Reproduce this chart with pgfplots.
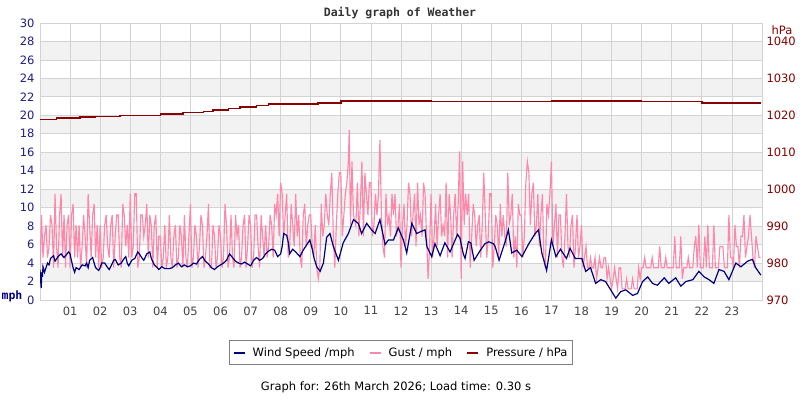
\documentclass[border=0pt]{standalone}
\usepackage{fontspec}
\setmainfont{DejaVu Sans}
\setmonofont{DejaVu Sans Mono}
\usepackage{pgfplots}
\pgfplotsset{compat=1.18}

\definecolor{windblue}{HTML}{000080}
\definecolor{gustpink}{HTML}{FF88AA}
\definecolor{pressred}{HTML}{8B0000}
\definecolor{leftblue}{HTML}{1E1E8C}
\definecolor{gridgray}{HTML}{D3D3D3}
\definecolor{bandgray}{HTML}{F2F2F2}
\definecolor{ticklabelgray}{HTML}{444444}
\definecolor{legendgray}{HTML}{808080}
\definecolor{titlegray}{HTML}{333333}

\newcommand{\chartfont}{\fontsize{11.5bp}{13bp}\selectfont}
\pgfplotsset{plotbox/.style={scale only axis, width=722bp, height=277bp,
  at={(40bp,100bp)}, anchor=south west, xmin=0, xmax=24}}

\begin{document}
\begin{tikzpicture}
\fill[white] (0,0) rectangle (800bp,400bp);

% background bands
\begin{axis}[plotbox, ymin=0, ymax=30, hide axis]
\fill[bandgray] (axis cs:0,2) rectangle (axis cs:24,4);
\fill[bandgray] (axis cs:0,6) rectangle (axis cs:24,8);
\fill[bandgray] (axis cs:0,10) rectangle (axis cs:24,12);
\fill[bandgray] (axis cs:0,14) rectangle (axis cs:24,16);
\fill[bandgray] (axis cs:0,18) rectangle (axis cs:24,20);
\fill[bandgray] (axis cs:0,22) rectangle (axis cs:24,24);
\fill[bandgray] (axis cs:0,26) rectangle (axis cs:24,28);
\end{axis}

% mph axis
\begin{axis}[
  plotbox, ymin=0, ymax=30,
  xtick={1,...,23},
  xticklabels={01,02,03,04,05,06,07,08,09,10,11,12,13,14,15,16,17,18,19,20,21,22,23},
  ytick={0,2,...,30},
  major tick length=0pt,
  grid=major, grid style={draw=gridgray, line width=0.8bp},
  axis line style={draw=gridgray, line width=0.8bp},
  tick label style={font=\chartfont},
  xticklabel style={text=ticklabelgray, yshift=-3bp},
  yticklabel style={text=leftblue, xshift=-2bp},
  /pgf/number format/assume math mode=true,
  legend columns=3,
  legend style={at={(0.5,-0.1444)}, anchor=north, draw=legendgray, line width=1bp,
    fill=white, font=\chartfont, inner xsep=3bp, inner ysep=5bp,
    /tikz/every odd column/.append style={column sep=5bp},
    /tikz/every even column/.append style={column sep=12bp}},
  legend image code/.code={\draw[#1, line width=2bp] (0bp,0bp) -- (11bp,0bp);},
]
\draw[gridgray, line width=2bp] (axis cs:0,0) -- (axis cs:0,30);

\addlegendimage{windblue}
\addlegendentry{Wind Speed /mph}
\addlegendimage{gustpink}
\addlegendentry{Gust / mph}
\addlegendimage{pressred}
\addlegendentry{Pressure / hPa}

% gust
\addplot[gustpink, line width=1.15bp, forget plot] coordinates {
(0.00,3.5) (0.05,9.2) (0.10,4.6) (0.15,6.9) (0.20,8.1) (0.25,4.6) (0.30,5.8) (0.35,9.2) (0.40,8.1) (0.45,3.5)
(0.50,11.5) (0.55,5.8) (0.60,3.5) (0.65,9.2) (0.70,11.5) (0.75,4.6) (0.80,9.2) (0.85,3.5) (0.90,8.1) (0.95,9.2)
(1.00,3.5) (1.05,9.2) (1.10,10.4) (1.15,4.6) (1.20,8.1) (1.25,4.6) (1.30,8.1) (1.35,3.5) (1.40,5.8) (1.45,9.2)
(1.50,6.9) (1.55,3.5) (1.60,11.5) (1.65,8.1) (1.70,4.6) (1.75,9.2) (1.80,10.4) (1.85,4.6) (1.90,8.1) (1.95,3.5)
(2.00,8.1) (2.05,3.5) (2.10,4.6) (2.15,8.1) (2.20,9.2) (2.25,5.8) (2.30,4.6) (2.35,8.1) (2.40,9.2) (2.45,3.5)
(2.50,6.9) (2.55,9.2) (2.60,9.2) (2.65,4.6) (2.70,3.5) (2.75,10.4) (2.80,9.2) (2.85,5.8) (2.90,8.1) (2.95,4.6)
(3.00,11.5) (3.05,4.6) (3.10,5.8) (3.15,11.5) (3.20,11.5) (3.25,3.5) (3.30,4.6) (3.35,9.2) (3.40,9.2) (3.45,6.9)
(3.50,8.1) (3.55,10.4) (3.60,4.6) (3.65,9.2) (3.70,8.1) (3.75,3.5) (3.80,8.1) (3.85,9.2) (3.90,3.5) (3.95,6.9)
(4.00,6.9) (4.05,3.5) (4.10,4.6) (4.15,8.1) (4.20,3.5) (4.25,4.6) (4.30,9.2) (4.35,4.6) (4.40,3.5) (4.45,6.9)
(4.50,8.1) (4.55,3.5) (4.60,4.6) (4.65,8.1) (4.70,6.9) (4.75,3.5) (4.80,9.2) (4.85,4.6) (4.90,3.5) (4.95,6.9)
(5.00,10.4) (5.05,3.5) (5.10,4.6) (5.15,8.1) (5.20,6.9) (5.25,3.5) (5.30,5.8) (5.35,9.2) (5.40,8.1) (5.45,3.5)
(5.50,4.6) (5.55,6.9) (5.60,10.4) (5.65,3.5) (5.70,3.5) (5.75,8.1) (5.80,6.9) (5.85,3.5) (5.90,4.6) (5.95,8.1)
(6.00,6.9) (6.05,3.5) (6.10,4.6) (6.15,10.4) (6.20,8.1) (6.25,3.5) (6.30,4.6) (6.35,9.2) (6.40,4.6) (6.45,3.5)
(6.50,9.2) (6.55,6.9) (6.60,8.1) (6.65,3.5) (6.70,4.6) (6.75,8.1) (6.80,9.2) (6.85,3.5) (6.90,5.8) (6.95,9.2)
(7.00,8.1) (7.05,3.5) (7.10,4.6) (7.15,9.2) (7.20,9.2) (7.25,5.8) (7.30,3.5) (7.35,9.2) (7.40,6.9) (7.45,4.6)
(7.50,8.1) (7.55,4.6) (7.60,5.8) (7.65,9.2) (7.70,8.1) (7.75,4.6) (7.80,10.4) (7.85,9.2) (7.90,11.5) (7.95,6.9)
(8.00,12.7) (8.05,11.5) (8.10,6.9) (8.15,9.2) (8.20,11.5) (8.25,4.6) (8.30,5.8) (8.35,10.4) (8.40,8.1) (8.45,5.8)
(8.50,11.5) (8.55,6.9) (8.60,9.2) (8.65,4.6) (8.70,3.5) (8.75,9.2) (8.80,10.4) (8.85,5.8) (8.90,8.1) (8.95,9.2)
(9.00,9.2) (9.05,5.8) (9.10,4.6) (9.15,8.1) (9.20,3.5) (9.25,2.3) (9.30,3.5) (9.35,10.4) (9.40,6.9) (9.45,8.1)
(9.50,11.5) (9.55,9.2) (9.60,8.1) (9.65,11.5) (9.70,13.8) (9.75,6.9) (9.80,3.5) (9.85,8.1) (9.90,11.5) (9.95,13.8)
(10.00,13.8) (10.05,6.9) (10.10,9.2) (10.15,11.5) (10.20,12.7) (10.25,15.0) (10.28,18.4) (10.32,8.1) (10.37,15.0) (10.42,9.2)
(10.50,8.1) (10.55,12.7) (10.60,6.9) (10.65,10.4) (10.70,15.0) (10.75,6.9) (10.80,13.8) (10.85,11.5) (10.90,9.2) (10.95,12.7)
(11.00,12.7) (11.05,6.9) (11.10,8.1) (11.15,11.5) (11.20,9.2) (11.25,11.5) (11.30,17.3) (11.35,9.2) (11.40,5.8) (11.45,4.6)
(11.50,11.5) (11.55,8.1) (11.60,9.2) (11.65,6.9) (11.70,11.5) (11.75,9.2) (11.80,11.5) (11.85,6.9) (11.90,8.1) (11.95,10.4)
(12.00,3.5) (12.05,8.1) (12.10,10.4) (12.15,5.8) (12.20,8.1) (12.25,12.7) (12.30,11.5) (12.35,6.9) (12.40,9.2) (12.45,11.5)
(12.50,5.8) (12.55,12.7) (12.60,8.1) (12.65,9.2) (12.70,6.9) (12.75,12.7) (12.80,11.5) (12.85,6.9) (12.90,2.3) (12.95,5.8)
(13.00,11.5) (13.05,4.6) (13.10,6.9) (13.15,10.4) (13.20,5.8) (13.25,9.2) (13.30,11.5) (13.35,6.9) (13.40,8.1) (13.45,6.9)
(13.50,12.7) (13.55,4.6) (13.60,11.5) (13.65,9.2) (13.70,4.6) (13.75,9.2) (13.80,11.5) (13.85,6.9) (13.90,10.4) (13.95,16.1)
(14.00,2.3) (14.05,15.0) (14.10,8.1) (14.15,11.5) (14.20,9.2) (14.25,11.5) (14.30,3.5) (14.35,6.9) (14.40,10.4) (14.45,9.2)
(14.50,5.8) (14.55,8.1) (14.60,9.2) (14.65,4.6) (14.70,8.1) (14.75,13.8) (14.80,9.2) (14.85,4.6) (14.90,6.9) (14.95,11.5)
(15.00,11.5) (15.05,3.5) (15.10,5.8) (15.15,9.2) (15.20,8.1) (15.25,4.6) (15.30,10.4) (15.35,6.9) (15.40,9.2) (15.45,6.9)
(15.50,5.8) (15.55,13.8) (15.60,8.1) (15.65,9.2) (15.70,11.5) (15.75,4.6) (15.80,6.9) (15.85,3.5) (15.90,10.4) (15.95,9.2)
(16.00,9.2) (16.05,4.6) (16.10,6.9) (16.15,12.7) (16.20,15.0) (16.25,13.8) (16.30,8.1) (16.35,11.5) (16.40,12.7) (16.45,6.9)
(16.50,8.1) (16.55,11.5) (16.60,5.8) (16.65,9.2) (16.70,11.5) (16.75,4.6) (16.80,3.5) (16.85,10.4) (16.90,9.2) (16.95,11.5)
(17.00,15.0) (17.05,5.8) (17.10,8.1) (17.15,10.4) (17.20,4.6) (17.25,9.2) (17.30,9.2) (17.35,4.6) (17.40,3.5) (17.45,6.9)
(17.50,11.5) (17.55,5.8) (17.60,4.6) (17.65,8.1) (17.70,9.2) (17.75,3.5) (17.80,5.8) (17.85,9.2) (17.90,4.6) (17.95,5.8)
(18.00,8.1) (18.05,3.5) (18.10,4.6) (18.15,5.8) (18.20,3.5) (18.25,3.5) (18.30,4.6) (18.35,3.5) (18.40,3.5) (18.45,4.6)
(18.50,2.3) (18.55,3.5) (18.60,4.6) (18.65,3.5) (18.70,3.5) (18.75,4.6) (18.80,4.6) (18.85,2.3) (18.90,3.5) (18.95,2.3)
(19.00,1.2) (19.05,2.3) (19.10,3.5) (19.15,2.3) (19.20,1.2) (19.25,3.5) (19.30,3.5) (19.35,1.2) (19.40,1.2) (19.45,1.2)
(19.50,2.3) (19.55,1.2) (19.60,1.2) (19.65,1.2) (19.70,2.3) (19.75,1.2) (19.80,1.2) (19.85,1.2) (19.90,3.5) (19.95,2.3)
(20.00,3.5) (20.05,3.5) (20.10,4.6) (20.15,3.5) (20.20,3.5) (20.25,3.5) (20.30,3.5) (20.35,4.6) (20.40,3.5) (20.45,3.5)
(20.50,3.5) (20.55,3.5) (20.60,5.8) (20.65,3.5) (20.70,3.5) (20.75,3.5) (20.80,4.6) (20.85,3.5) (20.90,3.5) (20.95,3.5)
(21.00,3.5) (21.05,3.5) (21.10,6.9) (21.15,3.5) (21.20,3.5) (21.25,3.5) (21.30,6.9) (21.35,2.3) (21.40,3.5) (21.45,3.5)
(21.50,3.5) (21.55,4.6) (21.60,3.5) (21.65,3.5) (21.70,3.5) (21.75,5.8) (21.80,6.9) (21.85,3.5) (21.90,8.1) (21.95,3.5)
(22.00,3.5) (22.05,3.5) (22.10,6.9) (22.15,3.5) (22.20,8.1) (22.25,3.5) (22.30,3.5) (22.35,3.5) (22.40,8.1) (22.45,3.5)
(22.50,3.5) (22.55,3.5) (22.60,5.8) (22.65,5.8) (22.70,5.8) (22.75,3.5) (22.80,3.5) (22.85,3.5) (22.90,9.2) (22.95,4.6)
(23.00,4.6) (23.05,3.5) (23.10,8.1) (23.15,5.8) (23.20,5.8) (23.25,3.5) (23.30,6.9) (23.35,6.9) (23.40,9.2) (23.45,4.6)
(23.50,5.8) (23.55,6.9) (23.60,9.2) (23.65,6.9) (23.70,4.6) (23.75,3.5) (23.80,6.9) (23.85,5.8) (23.90,4.6) (23.95,4.6)
};

% wind speed
\addplot[windblue, line width=1.2bp, forget plot] coordinates {
(0.00,3.3) (0.02,2.2) (0.04,1.3) (0.06,3.0) (0.08,2.5) (0.10,3.6) (0.15,3.0) (0.20,3.5) (0.25,4.0) (0.30,3.8)
(0.35,4.5) (0.45,4.8) (0.50,4.2) (0.60,4.7) (0.70,5.0) (0.80,4.6) (0.90,5.0) (0.95,5.2) (1.00,5.0) (1.05,4.2)
(1.10,3.5) (1.15,3.0) (1.20,3.5) (1.30,3.3) (1.40,3.8) (1.50,3.7) (1.55,4.0) (1.60,3.5) (1.65,4.3) (1.75,4.6)
(1.80,4.0) (1.85,3.5) (1.95,3.2) (2.00,3.5) (2.05,4.0) (2.15,4.0) (2.25,3.5) (2.30,3.3) (2.35,3.6) (2.45,4.3)
(2.50,4.4) (2.60,3.8) (2.70,4.0) (2.80,4.5) (2.85,4.7) (2.90,4.0) (2.95,3.7) (3.05,4.3) (3.15,4.5) (3.25,5.2)
(3.30,5.0) (3.40,4.5) (3.45,4.3) (3.55,5.0) (3.65,5.2) (3.70,4.5) (3.80,3.8) (3.90,3.5) (3.95,3.3) (4.05,3.6)
(4.15,3.4) (4.30,3.4) (4.40,3.5) (4.50,3.8) (4.60,4.0) (4.70,3.6) (4.80,3.8) (4.90,3.6) (5.00,3.7) (5.10,4.0)
(5.20,3.9) (5.30,4.4) (5.40,4.7) (5.50,4.2) (5.60,3.9) (5.70,3.5) (5.80,3.3) (5.90,3.6) (6.00,3.8) (6.10,4.0)
(6.20,4.3) (6.30,5.0) (6.40,4.6) (6.50,4.2) (6.60,4.0) (6.70,3.9) (6.80,4.1) (6.90,3.9) (7.00,3.7) (7.10,4.3)
(7.20,4.6) (7.30,4.3) (7.40,4.5) (7.50,5.0) (7.60,5.3) (7.70,5.5) (7.80,5.4) (7.90,4.7) (8.00,5.0) (8.05,5.8)
(8.10,7.2) (8.20,7.0) (8.25,6.3) (8.30,5.0) (8.40,5.5) (8.50,5.2) (8.64,4.7) (8.75,5.4) (8.85,5.9) (8.97,6.5)
(9.05,5.5) (9.12,4.4) (9.20,3.6) (9.31,3.1) (9.42,4.0) (9.53,6.8) (9.64,7.2) (9.75,5.8) (9.92,4.3) (10.08,6.2)
(10.25,7.2) (10.42,8.7) (10.58,8.3) (10.69,7.2) (10.86,8.3) (11.02,7.6) (11.14,7.2) (11.30,8.7) (11.47,6.0) (11.58,6.5)
(11.75,6.5) (11.91,7.8) (12.08,6.5) (12.19,5.1) (12.36,8.3) (12.52,7.2) (12.65,7.4) (12.80,7.6) (12.86,5.8) (13.02,4.7)
(13.13,6.1) (13.30,4.8) (13.46,6.2) (13.63,5.2) (13.80,6.5) (13.88,7.1) (13.96,6.7) (14.07,5.0) (14.13,4.5) (14.24,6.3)
(14.32,6.2) (14.43,4.3) (14.62,5.3) (14.79,6.1) (14.92,6.3) (15.07,6.1) (15.13,5.8) (15.26,4.3) (15.46,6.3) (15.57,7.6)
(15.68,5.1) (15.85,5.4) (16.02,4.7) (16.25,6.1) (16.46,7.2) (16.57,7.6) (16.68,5.1) (16.84,3.2) (17.00,6.5) (17.15,4.7)
(17.30,5.5) (17.50,4.5) (17.62,5.6) (17.79,4.5) (17.90,4.5) (18.01,4.5) (18.14,3.1) (18.30,3.5) (18.47,1.8) (18.64,2.2)
(18.80,2.0) (18.97,1.1) (19.14,0.2) (19.30,0.9) (19.47,1.1) (19.70,0.5) (19.86,0.7) (20.03,2.0) (20.20,2.5) (20.36,1.8)
(20.52,1.6) (20.75,2.4) (20.90,1.8) (21.13,2.4) (21.30,1.5) (21.47,2.0) (21.70,2.2) (21.90,3.1) (22.08,2.5) (22.24,2.2)
(22.40,1.8) (22.57,3.3) (22.74,3.1) (22.90,2.2) (23.13,4.0) (23.30,3.6) (23.52,4.2) (23.68,4.4) (23.79,3.5) (23.96,2.7)
};
\end{axis}

% hPa axis
\begin{axis}[
  plotbox, ymin=970, ymax=1045,
  axis x line=none, axis y line*=right,
  ytick={970,980,...,1040},
  major tick length=0pt,
  axis line style={draw=gridgray, line width=0.8bp},
  yticklabel style={text=pressred, font=\chartfont, xshift=1bp},
  /pgf/number format/1000 sep={},
  /pgf/number format/assume math mode=true,
]
\addplot[pressred, line width=1.6bp, const plot mark left] coordinates {
(0.00,1018.9) (0.55,1019.2) (1.33,1019.5) (1.83,1019.7) (2.66,1020.0) (4.00,1020.3) (4.76,1020.8)
(5.43,1021.0) (5.76,1021.5) (6.26,1021.9) (6.65,1022.3) (7.20,1022.7) (7.60,1023.0) (8.50,1023.1)
(9.25,1023.4) (10.00,1023.8) (13.00,1023.7) (17.00,1023.8) (20.00,1023.7) (22.00,1023.4) (23.95,1023.4)
};
\end{axis}

\node[font=\ttfamily\bfseries\fontsize{11.5bp}{13bp}\selectfont, text=titlegray] at (400bp,387bp) {Daily graph of Weather};
\node[font=\ttfamily\bfseries\fontsize{11.5bp}{13bp}\selectfont, text=windblue] at (12bp,104bp) {mph};
\node[font=\chartfont, text=pressred] at (782bp,370bp) {hPa};
\node[font=\chartfont, text=black] at (396bp,13bp) {Graph for: 26th March 2026; Load time: 0.30 s};
\pgfresetboundingbox
\useasboundingbox (0,0) rectangle (800bp,400bp);
\end{tikzpicture}
\end{document}
